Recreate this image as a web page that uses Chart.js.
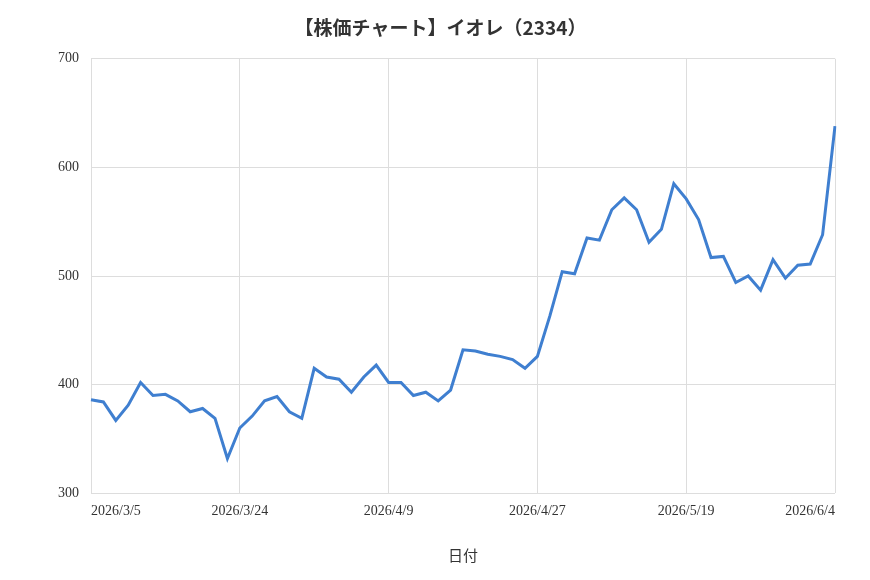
<!DOCTYPE html>
<html><head><meta charset="utf-8">
<script src="https://cdn.jsdelivr.net/npm/chart.js@4"></script>
<style>html,body{margin:0;padding:0;background:#fff}#w{width:870px;height:580px}</style>
</head><body><div id="w"><canvas id="c"></canvas></div>
<script>
const labels = ["2026/3/5","2026/3/6","2026/3/9","2026/3/10","2026/3/11","2026/3/12","2026/3/13","2026/3/16","2026/3/17","2026/3/18","2026/3/19","2026/3/23","2026/3/24","2026/3/25","2026/3/26","2026/3/27","2026/3/30","2026/3/31","2026/4/1","2026/4/2","2026/4/3","2026/4/6","2026/4/7","2026/4/8","2026/4/9","2026/4/10","2026/4/13","2026/4/14","2026/4/15","2026/4/16","2026/4/17","2026/4/20","2026/4/21","2026/4/22","2026/4/23","2026/4/24","2026/4/27","2026/4/28","2026/4/30","2026/5/1","2026/5/7","2026/5/8","2026/5/11","2026/5/12","2026/5/13","2026/5/14","2026/5/15","2026/5/18","2026/5/19","2026/5/20","2026/5/21","2026/5/22","2026/5/25","2026/5/26","2026/5/27","2026/5/28","2026/5/29","2026/6/1","2026/6/2","2026/6/3","2026/6/4"];
const prices = [386,384,367,381,402,390,391,385,375,378,369,332,360,371,385,389,375,369,415,407,405,393,407,418,402,402,390,393,385,395,432,431,428,426,423,415,426,463,504,502,535,533,561,572,561,531,543,585,571,552,517,518,494,500,487,515,498,510,511,538,638];
const yTicks = {min:300,max:700,step:100};
const tickFont = {family:"'Liberation Serif','DejaVu Serif',serif",size:14};
new Chart(document.getElementById('c'),{
 type:'line',
 data:{labels:labels,datasets:[{data:prices,borderColor:'#3f7fd0',borderWidth:3,pointRadius:0,tension:0,fill:false}]},
 options:{responsive:true,maintainAspectRatio:false,animation:false,
  layout:{padding:{left:46,right:35,top:16,bottom:12}},
  plugins:{legend:{display:false},tooltip:{enabled:false},
   title:{display:true,text:'【株価チャート】イオレ（2334）',color:'#333',font:{family:"'Noto Sans CJK JP'",size:19,weight:'bold'},padding:{top:0,bottom:20}}},
  scales:{
   x:{grid:{color:'#dddddd',drawTicks:false},border:{display:false},
      ticks:{autoSkip:false,maxRotation:0,align:'inner',padding:10,color:'#333',font:tickFont,callback:(v,i)=>i%12===0?labels[i]:null},
      title:{display:true,text:'日付',color:'#333',font:{family:"'Noto Sans CJK JP'",size:15},padding:{top:16}}},
   y:{min:yTicks.min,max:yTicks.max,grid:{color:'#dddddd',drawTicks:false},border:{display:false},
      ticks:{stepSize:yTicks.step,padding:12,color:'#333',font:tickFont}}
  }}
});
</script></body></html>
